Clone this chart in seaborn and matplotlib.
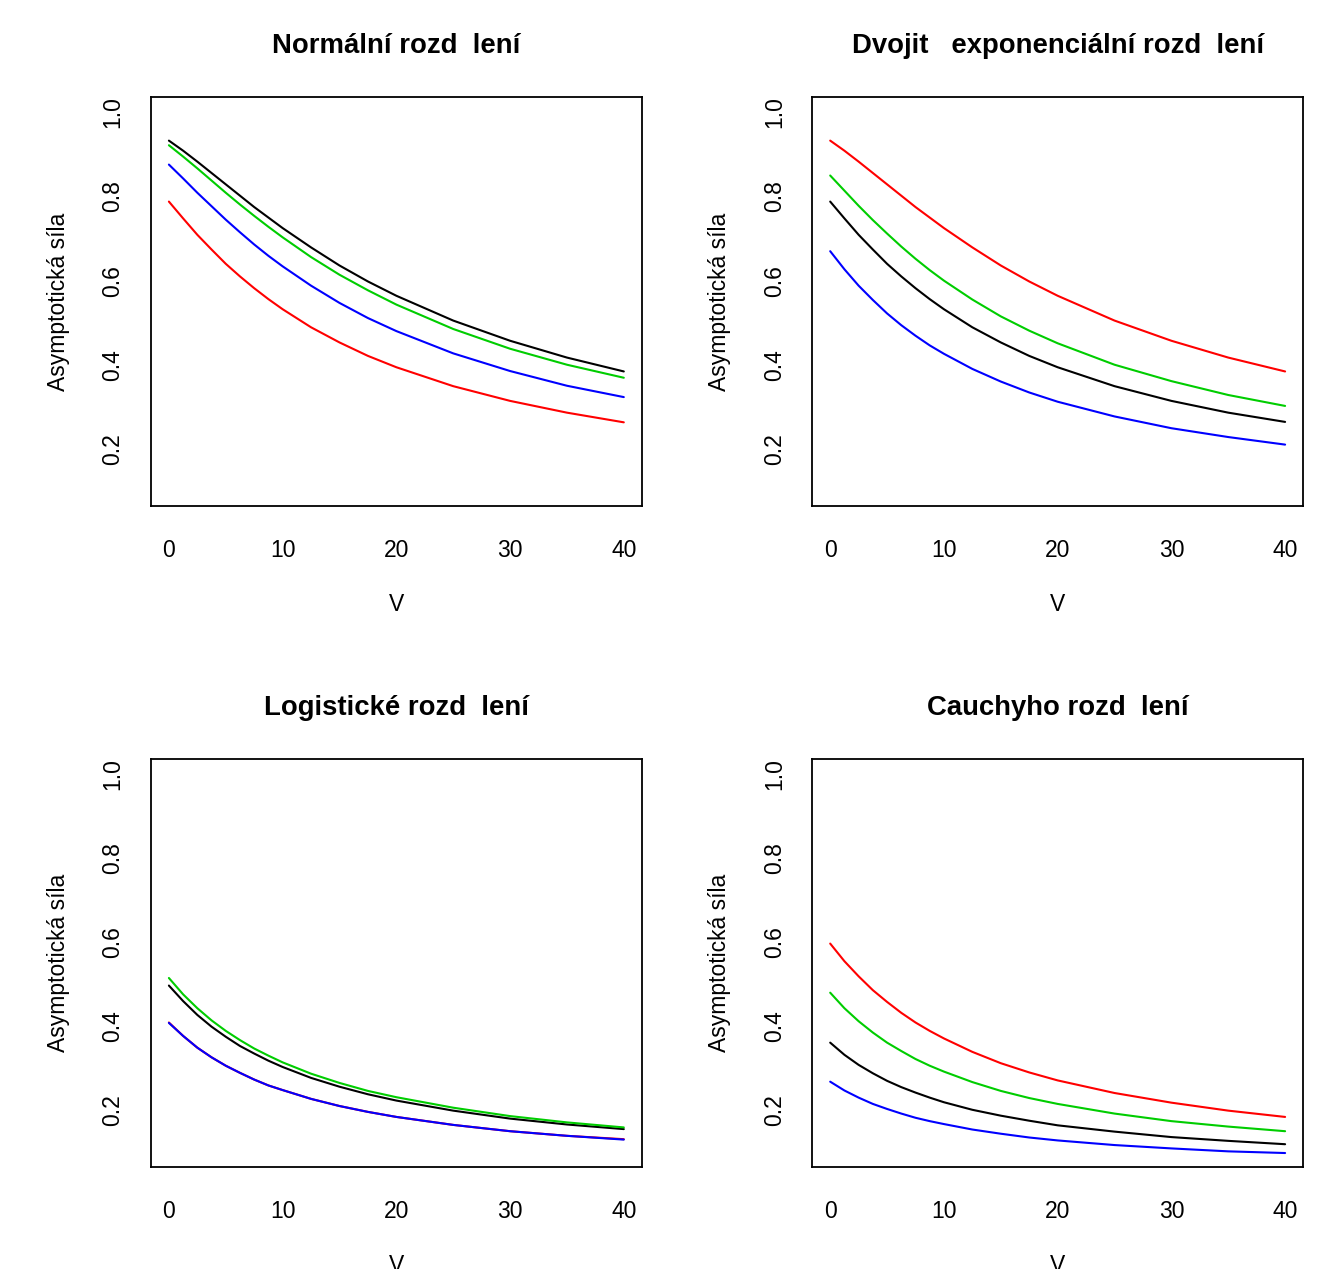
import matplotlib
matplotlib.use("Agg")
import matplotlib.pyplot as plt
import seaborn as sns
import pandas as pd

# ---- data ----
V = [0, 1.25, 2.5, 3.75, 5, 6.25, 7.5, 8.75, 10, 12.5, 15, 17.5, 20, 25, 30, 35, 40]

norm_black = [0.933, 0.909, 0.883, 0.856, 0.829, 0.802, 0.775, 0.750, 0.725, 0.679, 0.636, 0.598, 0.564, 0.505, 0.457, 0.417, 0.384]
norm_red   = [0.788, 0.748, 0.709, 0.674, 0.640, 0.610, 0.582, 0.556, 0.532, 0.489, 0.453, 0.421, 0.394, 0.349, 0.314, 0.286, 0.263]
norm_green = [0.922, 0.895, 0.867, 0.838, 0.809, 0.781, 0.754, 0.728, 0.703, 0.656, 0.614, 0.577, 0.543, 0.485, 0.438, 0.400, 0.369]
norm_blue  = [0.876, 0.843, 0.809, 0.777, 0.745, 0.715, 0.686, 0.659, 0.634, 0.588, 0.547, 0.511, 0.480, 0.427, 0.385, 0.350, 0.323]

dexp_black = [0.788, 0.748, 0.709, 0.674, 0.640, 0.610, 0.582, 0.556, 0.532, 0.489, 0.453, 0.421, 0.394, 0.349, 0.314, 0.286, 0.264]
dexp_red   = [0.933, 0.909, 0.883, 0.856, 0.829, 0.802, 0.775, 0.750, 0.725, 0.679, 0.636, 0.598, 0.564, 0.505, 0.457, 0.417, 0.384]
dexp_green = [0.850, 0.814, 0.778, 0.744, 0.712, 0.681, 0.652, 0.625, 0.600, 0.555, 0.515, 0.481, 0.451, 0.400, 0.361, 0.328, 0.302]
dexp_blue  = [0.670, 0.627, 0.588, 0.554, 0.522, 0.494, 0.469, 0.446, 0.426, 0.390, 0.360, 0.334, 0.312, 0.277, 0.249, 0.228, 0.210]

logi_black = [0.497, 0.460, 0.427, 0.399, 0.375, 0.353, 0.335, 0.318, 0.303, 0.277, 0.256, 0.238, 0.223, 0.199, 0.180, 0.166, 0.155]
logi_red   = [0.409, 0.377, 0.349, 0.326, 0.306, 0.289, 0.273, 0.259, 0.248, 0.227, 0.210, 0.196, 0.184, 0.165, 0.150, 0.139, 0.131]
logi_green = [0.515, 0.476, 0.443, 0.414, 0.389, 0.367, 0.347, 0.330, 0.314, 0.287, 0.265, 0.246, 0.231, 0.206, 0.186, 0.171, 0.159]
logi_blue  = [0.408, 0.377, 0.349, 0.326, 0.306, 0.289, 0.273, 0.259, 0.248, 0.227, 0.210, 0.196, 0.184, 0.165, 0.150, 0.139, 0.130]

cau_black = [0.361, 0.332, 0.308, 0.288, 0.270, 0.255, 0.242, 0.230, 0.219, 0.201, 0.187, 0.175, 0.164, 0.149, 0.136, 0.127, 0.119]
cau_red   = [0.597, 0.555, 0.519, 0.486, 0.458, 0.432, 0.409, 0.389, 0.371, 0.339, 0.312, 0.290, 0.271, 0.241, 0.218, 0.199, 0.184]
cau_green = [0.480, 0.443, 0.412, 0.385, 0.361, 0.341, 0.322, 0.306, 0.292, 0.267, 0.246, 0.229, 0.215, 0.192, 0.174, 0.161, 0.150]
cau_blue  = [0.268, 0.247, 0.230, 0.215, 0.203, 0.192, 0.182, 0.174, 0.167, 0.154, 0.144, 0.135, 0.128, 0.117, 0.109, 0.102, 0.098]

titles = ["Normální rozd  lení", "Dvojit   exponenciální rozd  lení",
          "Logistické rozd  lení", "Cauchyho rozd  lení"]
series_names = ["black", "red", "green", "blue"]
panel_series = [
    [norm_black, norm_red, norm_green, norm_blue],
    [dexp_black, dexp_red, dexp_green, dexp_blue],
    [logi_black, logi_red, logi_green, logi_blue],
    [cau_black, cau_red, cau_green, cau_blue],
]
xlabel = "V"
ylabel = "Asymptotická síla"
xticks = [0, 10, 20, 30, 40]
yticks = [0.2, 0.4, 0.6, 0.8, 1.0]
ytick_labels = ["0.2", "0.4", "0.6", "0.8", "1.0"]

# ---- styling ----
sns.set_style("white")
plt.rcParams['font.family'] = ['Liberation Sans', 'DejaVu Sans']
plt.rcParams['text.color'] = 'black'
plt.rcParams['axes.labelcolor'] = 'black'
plt.rcParams['xtick.color'] = 'black'
plt.rcParams['ytick.color'] = 'black'
palette = {"black": "#000000", "red": "#FF0000", "green": "#00CD00", "blue": "#0000FF"}

BASE = 16.5
W, H = 1325, 1269
fig = plt.figure(figsize=(W / 100, H / 100), dpi=100)
fig.patch.set_facecolor("white")

w = 491.3 / W
h_top = 408.7 / H
h_bot = 408.0 / H
positions = [
    (150.7 / W, 1 - 506.0 / H, w, h_top),
    (812.0 / W, 1 - 506.0 / H, w, h_top),
    (150.7 / W, 1 - 1167.3 / H, w, h_bot),
    (812.0 / W, 1 - 1167.3 / H, w, h_bot),
]

for pos, title, series in zip(positions, titles, panel_series):
    ax = fig.add_axes(pos)
    rows = []
    for name, vals in zip(series_names, series):
        for v, p in zip(V, vals):
            rows.append({"V": v, "sila": p, "serie": name})
    df = pd.DataFrame(rows)
    sns.lineplot(data=df, x="V", y="sila", hue="serie", hue_order=series_names,
                 palette=palette, estimator=None, sort=True, legend=False,
                 linewidth=1.5, ax=ax)
    ax.set_xlim(-1.6, 41.6)
    ax.set_ylim(0.064, 1.036)
    ax.set_xticks(xticks)
    ax.set_xticklabels([str(t) for t in xticks], fontsize=BASE)
    ax.set_yticks(yticks)
    ax.set_yticklabels(ytick_labels, fontsize=BASE, rotation=90, va="center")
    ax.tick_params(axis="both", direction="out", length=10.8, width=1.3,
                   color="black", labelcolor="black")
    ax.tick_params(axis="x", pad=13)
    ax.tick_params(axis="y", pad=8)
    for sp in ax.spines.values():
        sp.set_visible(True)
        sp.set_color("black")
        sp.set_linewidth(1.3)
    ax.set_xlabel(xlabel, fontsize=BASE)
    ax.set_ylabel(ylabel, fontsize=BASE)
    ax.xaxis.set_label_coords(0.5, -0.2125)
    ax.yaxis.set_label_coords(-0.164, 0.5)
    ax.set_title(title, fontsize=BASE * 1.2, fontweight="bold", pad=32)

fig.savefig("out.png", dpi=100, facecolor="white")
